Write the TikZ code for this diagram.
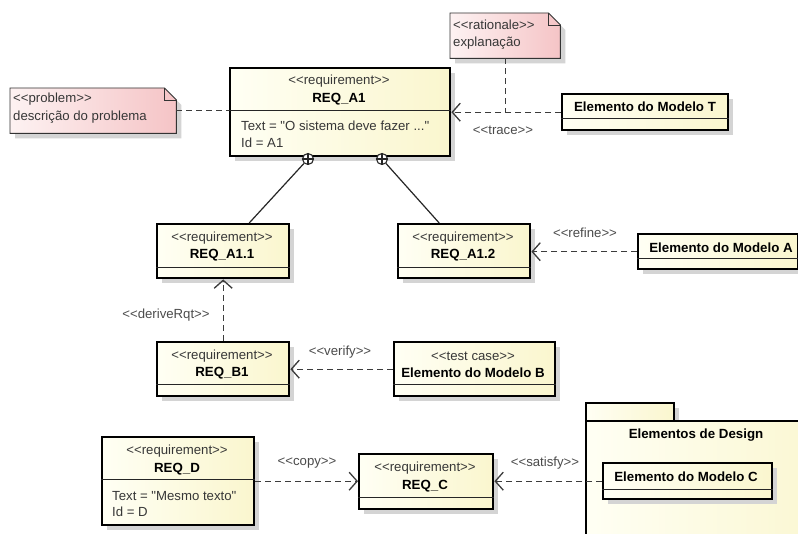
\documentclass[tikz,border=0pt]{standalone}
\usepackage{fontspec}
\newfontfamily\lsans{Liberation Sans}
\usetikzlibrary{arrows.meta,shadows,calc}
\definecolor{ylA}{RGB}{255,255,244}
\definecolor{ylB}{RGB}{250,246,206}
\definecolor{pkA}{RGB}{253,242,242}
\definecolor{pkB}{RGB}{245,196,198}
\definecolor{txtg}{RGB}{55,55,55}
\definecolor{lblg}{RGB}{75,75,75}
\definecolor{lineg}{RGB}{60,60,60}
\definecolor{shadowg}{RGB}{212,212,212}
\tikzset{
  shd/.style={drop shadow={shadow xshift=5pt,shadow yshift=-5pt,fill=shadowg,opacity=1}},
  box/.style={draw=black,line width=2.4pt,inner sep=0pt,anchor=north west,left color=ylA,right color=ylB,shd},
  notebg/.style={inner sep=0pt,anchor=north west},
  notepath/.style={draw=black!80,line width=0.9pt,left color=pkA,right color=pkB,shd},
  divline/.style={draw=black!85,line width=1pt},
  stereo/.style={font=\lsans\fontsize{13.2}{15}\selectfont,text=txtg,inner sep=0pt},
  bname/.style={font=\lsans\bfseries\fontsize{13.3}{15}\selectfont,text=black,inner sep=0pt},
  attr/.style={font=\lsans\fontsize{13.2}{15}\selectfont,text=txtg,inner sep=0pt,anchor=west},
  lbl/.style={font=\lsans\fontsize{13.2}{15}\selectfont,text=lblg,inner sep=0pt},
  dep/.style={draw=lineg,line width=1.3pt,dash pattern=on 6pt off 4pt,-{Straight Barb[length=8pt,width=18pt,line width=1.3pt]}},
  dline/.style={draw=lineg,line width=1.3pt,dash pattern=on 6pt off 4pt},
  comp/.style={draw=black!85,line width=1.2pt},
  circ/.style={circle,draw=black!85,line width=1.1pt,fill=white,minimum size=11pt,inner sep=0pt}
}
\begin{document}
\begin{tikzpicture}[x=1pt,y=-1pt]
\useasboundingbox[fill=white] (0,0) rectangle (798,534);

% ---------- notes ----------
\node[notebg,minimum width=166pt,minimum height=45pt] (pn) at (10,88) {};
\path[notepath] (pn.north west) -- ($(pn.north east)+(-12,0)$) -- ($(pn.north east)+(0,12)$) -- (pn.south east) -- (pn.south west) -- cycle;
\draw[draw=black!80,line width=0.9pt] ($(pn.north east)+(-12,0)$) |- ($(pn.north east)+(0,12)$);
\node[attr] (pnt1) at (13,99) {<<problem>>};
\node[attr] (pnt2) at (13,117) {descrição do problema};

\node[notebg,minimum width=110pt,minimum height=45pt] (rn) at (450,13) {};
\path[notepath] (rn.north west) -- ($(rn.north east)+(-12,0)$) -- ($(rn.north east)+(0,12)$) -- (rn.south east) -- (rn.south west) -- cycle;
\draw[draw=black!80,line width=0.9pt] ($(rn.north east)+(-12,0)$) |- ($(rn.north east)+(0,12)$);
\node[attr] (rnt1) at (453,25) {<<rationale>>};
\node[attr] (rnt2) at (453,43) {explanação};

% ---------- REQ_A1 ----------
\node[box,minimum width=220pt,minimum height=88pt] (a1) at (229,67) {};
\draw[divline] (a1.west |- 0,111) -- (a1.east |- 0,111);
\node[stereo] (a1s) at (339,81) {<<requirement>>};
\node[bname] (a1n) at (339,99) {REQ\_A1};
\node[attr] (a1t) at (241,126) {Text = "O sistema deve fazer ..."};
\node[attr] (a1i) at (241,143) {Id = A1};

% ---------- Elemento do Modelo T ----------
\node[box,minimum width=166pt,minimum height=36pt] (mt) at (561,93) {};
\draw[divline] (mt.west |- 0,119) -- (mt.east |- 0,119);
\node[bname] (mtn) at (645,107) {Elemento do Modelo T};

% ---------- REQ_A1.1 / REQ_A1.2 ----------
\node[box,minimum width=132pt,minimum height=54pt] (r11) at (156,223) {};
\draw[divline] (r11.west |- 0,268) -- (r11.east |- 0,268);
\node[stereo] (r11s) at (222,238) {<<requirement>>};
\node[bname] (r11n) at (222,255) {REQ\_A1.1};

\node[box,minimum width=132pt,minimum height=54pt] (r12) at (397,223) {};
\draw[divline] (r12.west |- 0,268) -- (r12.east |- 0,268);
\node[stereo] (r12s) at (463,238) {<<requirement>>};
\node[bname] (r12n) at (463,255) {REQ\_A1.2};

% ---------- Elemento do Modelo A ----------
\node[box,minimum width=160pt,minimum height=35pt] (ma) at (637,233) {};
\draw[divline] (ma.west |- 0,259) -- (ma.east |- 0,259);
\node[bname] (man) at (721,248) {Elemento do Modelo A};

% ---------- REQ_B1 / Elemento do Modelo B ----------
\node[box,minimum width=132pt,minimum height=54pt] (b1) at (156,341) {};
\draw[divline] (b1.west |- 0,385) -- (b1.east |- 0,385);
\node[stereo] (b1s) at (222,356) {<<requirement>>};
\node[bname] (b1n) at (222,373) {REQ\_B1};

\node[box,minimum width=161pt,minimum height=54pt] (mb) at (393,341) {};
\draw[divline] (mb.west |- 0,385) -- (mb.east |- 0,385);
\node[stereo] (mbs) at (473,356) {<<test case>>};
\node[bname] (mbn) at (473,373) {Elemento do Modelo B};

% ---------- REQ_D / REQ_C ----------
\node[box,minimum width=152pt,minimum height=88pt] (rd) at (101,436) {};
\draw[divline] (rd.west |- 0,479) -- (rd.east |- 0,479);
\node[stereo] (rds) at (177,451) {<<requirement>>};
\node[bname] (rdn) at (177,469) {REQ\_D};
\node[attr] (rdt) at (112,496) {Text = "Mesmo texto"};
\node[attr] (rdi) at (112,512) {Id = D};

\node[box,minimum width=134pt,minimum height=55pt] (rc) at (358,453) {};
\draw[divline] (rc.west |- 0,497) -- (rc.east |- 0,497);
\node[stereo] (rcs) at (425,468) {<<requirement>>};
\node[bname] (rcn) at (425,486) {REQ\_C};

% ---------- package ----------
\node[box,minimum width=88pt,minimum height=18pt] (pkt) at (585,402) {};
\node[box,minimum width=260pt,minimum height=150pt] (pk) at (585,420) {};
\node[bname] (pkn) at (696,435) {Elementos de Design};
\node[box,minimum width=169pt,minimum height=36pt] (mc) at (602,462) {};
\draw[divline] (mc.west |- 0,489) -- (mc.east |- 0,489);
\node[bname] (mcn) at (686,477) {Elemento do Modelo C};

% ---------- composition ----------
\node[circ] (c1) at (308,159) {};
\draw[comp] (c1.north) -- (c1.south) (c1.west) -- (c1.east);
\node[circ] (c2) at (382,159) {};
\draw[comp] (c2.north) -- (c2.south) (c2.west) -- (c2.east);
\coordinate (r11top) at ($(r11.north)+(26,0)$);
\coordinate (r12top) at ($(r12.north)+(-25,0)$);
\draw[comp] (c1) -- (r11top);
\draw[comp] (c2) -- (r12top);

% ---------- connectors ----------
\draw[dline] (pn.east) -- (a1.west |- pn.east);
\draw[dline] (rn.south) -- (rn.south |- mt.west);
\draw[dep] (mt.west) -- (a1.east |- mt.west);
\node[lbl] (ltrace) at (503,130) {<<trace>>};

\draw[dep] (ma.west) -- (r12.east |- ma.west);
\node[lbl] (lrefine) at (585,233) {<<refine>>};

\draw[dep] (b1.north) -- (r11.south);
\node[lbl] (lderive) at (166,315) {<<deriveRqt>>};

\draw[dep] (mb.west) -- (b1.east |- mb.west);
\node[lbl] (lverify) at (340,352) {<<verify>>};

\draw[dep] (rd.east) -- (rc.west |- rd.east);
\node[lbl] (lcopy) at (307,463) {<<copy>>};

\draw[dep] (mc.west) -- (rc.east |- mc.west);
\node[lbl] (lsatisfy) at (545,463) {<<satisfy>>};
\end{tikzpicture}
\end{document}
